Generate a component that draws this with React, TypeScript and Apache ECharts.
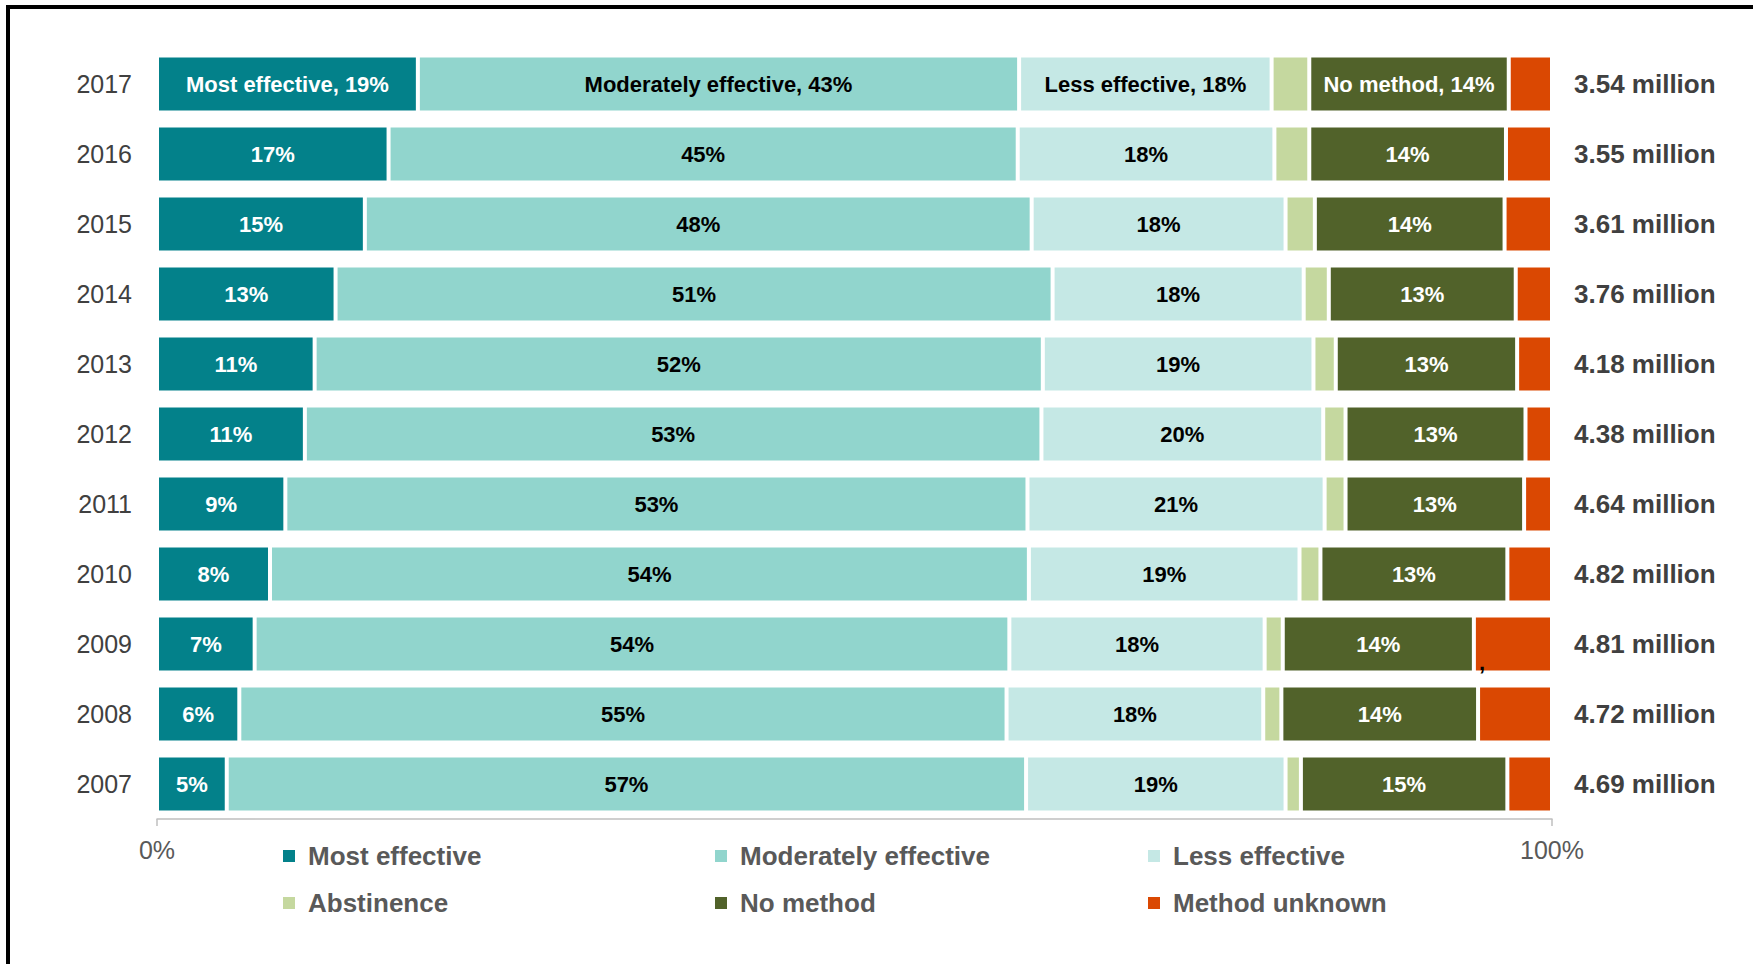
import React, { useEffect, useRef } from "react";
import * as echarts from "echarts";

const years = ["2017", "2016", "2015", "2014", "2013", "2012", "2011", "2010", "2009", "2008", "2007"];
const totals = ["3.54 million", "3.55 million", "3.61 million", "3.76 million", "4.18 million", "4.38 million", "4.64 million", "4.82 million", "4.81 million", "4.72 million", "4.69 million"];
const xTicks = [0, 100];

const mostEffective = [18.7, 16.6, 14.9, 12.8, 11.3, 10.6, 9.2, 8.1, 7.0, 5.9, 5.0];
const moderatelyEffective = [43.1, 45.1, 47.8, 51.4, 52.2, 52.8, 53.2, 54.4, 54.1, 55.0, 57.3];
const lessEffective = [18.1, 18.4, 18.2, 18.0, 19.4, 20.2, 21.3, 19.4, 18.3, 18.4, 18.6];
const abstinence = [2.7, 2.5, 2.1, 1.8, 1.6, 1.6, 1.5, 1.5, 1.3, 1.3, 1.1];
const noMethod = [14.3, 14.1, 13.6, 13.4, 13.0, 12.9, 12.8, 13.4, 13.7, 14.1, 14.8];
const methodUnknown = [3.1, 3.3, 3.4, 2.6, 2.5, 1.9, 2.0, 3.2, 5.6, 5.3, 3.2];

const SANS = "'Liberation Sans', Arial, sans-serif";

const seriesDefs = [
  { name: "Most effective", data: mostEffective, color: "#03818A", labelColor: "#ffffff", showLabel: true },
  { name: "Moderately effective", data: moderatelyEffective, color: "#91D5CD", labelColor: "#000000", showLabel: true },
  { name: "Less effective", data: lessEffective, color: "#C5E8E5", labelColor: "#000000", showLabel: true },
  { name: "Abstinence", data: abstinence, color: "#C5D89F", labelColor: "#000000", showLabel: false },
  { name: "No method", data: noMethod, color: "#51622A", labelColor: "#ffffff", showLabel: true },
  { name: "Method unknown", data: methodUnknown, color: "#DA4802", labelColor: "#000000", showLabel: false },
];

export default function App() {
  const ref = useRef<HTMLDivElement>(null);

  useEffect(() => {
    if (!ref.current) return;
    const chart = echarts.init(ref.current, null, { renderer: "svg" });

    const series = seriesDefs.map((s) => ({
      name: s.name,
      type: "bar",
      stack: "total",
      barWidth: 57,
      itemStyle: { color: s.color, borderColor: "#ffffff", borderWidth: 2 },
      label: {
        show: s.showLabel,
        position: "inside",
        color: s.labelColor,
        fontFamily: SANS,
        fontWeight: "bold",
        fontSize: 22,
        formatter: (p: any) =>
          p.dataIndex === 0 ? `${s.name}, ${Math.round(p.value)}%` : `${Math.round(p.value)}%`,
      },
      data: s.data.map((v, i) =>
        s.name === "Method unknown" && years[i] === "2009"
          ? {
              value: v,
              label: {
                show: true,
                formatter: ",",
                position: "insideBottomLeft",
                offset: [0, 6],
                color: "#000000",
                fontFamily: SANS,
                fontWeight: "bold",
                fontSize: 22,
              },
            }
          : v
      ),
    }));

    const legendCols = [
      ["Most effective", "Abstinence"],
      ["Moderately effective", "No method"],
      ["Less effective", "Method unknown"],
    ];
    const legendLefts = [281, 713, 1146];

    chart.setOption({
      animation: false,
      backgroundColor: "#ffffff",
      grid: { left: 157, top: 49, width: 1395, height: 770, containLabel: false },
      xAxis: {
        type: "value",
        min: xTicks[0],
        max: xTicks[1],
        interval: 100,
        splitLine: { show: false },
        axisLine: { show: true, lineStyle: { color: "#BFBFBF", width: 1.5 } },
        axisTick: { show: true, length: 7, lineStyle: { color: "#BFBFBF", width: 1.5 } },
        axisLabel: {
          margin: 18,
          color: "#595959",
          fontFamily: SANS,
          fontSize: 25,
          formatter: "{value}%",
        },
      },
      yAxis: [
        {
          type: "category",
          data: years,
          inverse: true,
          axisLine: { show: false },
          axisTick: { show: false },
          axisLabel: { margin: 25, color: "#404040", fontFamily: SANS, fontSize: 25 },
        },
        {
          type: "category",
          data: totals,
          inverse: true,
          position: "right",
          axisLine: { show: false },
          axisTick: { show: false },
          axisLabel: { margin: 22, color: "#404040", fontFamily: SANS, fontSize: 26, fontWeight: "bold" },
        },
      ],
      legend: legendCols.map((col, i) => ({
        data: col,
        orient: "vertical",
        left: legendLefts[i],
        top: 841,
        padding: 0,
        itemWidth: 14,
        itemHeight: 14,
        itemGap: 17,
        icon: "rect",
        selectedMode: false,
        textStyle: {
          color: "#595959",
          fontFamily: SANS,
          fontSize: 26,
          fontWeight: "bold",
          lineHeight: 30,
          padding: [0, 0, 0, 7],
        },
      })),
      graphic: [
        { type: "rect", shape: { x: 6, y: 5, width: 1760, height: 4 }, style: { fill: "#000000" } },
        { type: "rect", shape: { x: 6, y: 5, width: 4, height: 970 }, style: { fill: "#000000" } },
      ],
      series,
    });

    return () => chart.dispose();
  }, []);

  return (
    <div
      ref={ref}
      style={{ position: "absolute", left: 0, top: 0, width: 1753, height: 964, background: "#ffffff" }}
    />
  );
}
